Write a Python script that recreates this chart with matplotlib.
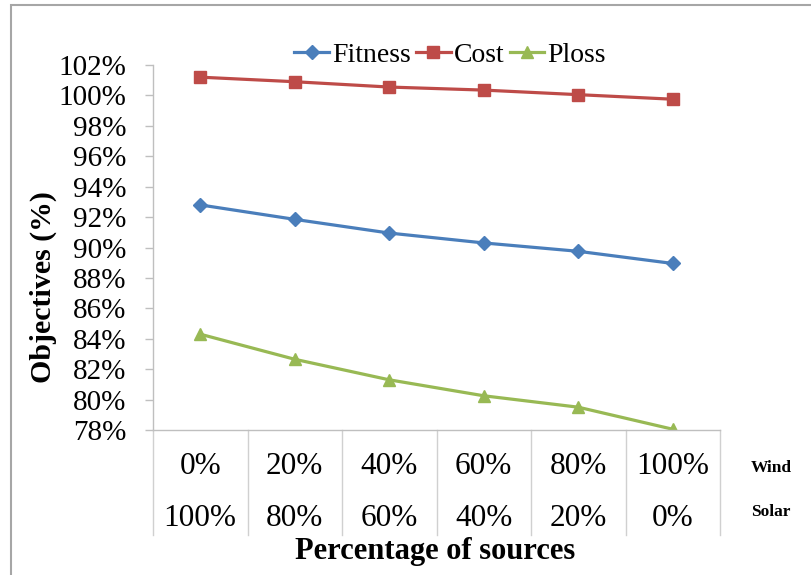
import matplotlib
matplotlib.use('Agg')
import matplotlib.pyplot as plt
import matplotlib.transforms as mtransforms
from matplotlib.patches import Rectangle

plt.rcParams['font.family'] = ['Liberation Serif', 'DejaVu Serif']

wind = ['0%', '20%', '40%', '60%', '80%', '100%']
solar = ['100%', '80%', '60%', '40%', '20%', '0%']
fitness = [92.8, 91.85, 90.95, 90.3, 89.75, 88.95]
cost = [101.2, 100.9, 100.55, 100.35, 100.05, 99.75]
ploss = [84.3, 82.65, 81.3, 80.25, 79.5, 78.05]
yticks = list(range(78, 103, 2))

W, H = 811, 575
fig = plt.figure(figsize=(W / 100, H / 100), dpi=100)

# outer chart frame
fig.patches.append(Rectangle((11 / W, -0.01), 1.0, 1 - 5 / H + 0.01, transform=fig.transFigure,
                             fill=False, edgecolor='#A6A6A6', linewidth=1.5))

ax = fig.add_axes([153 / W, 1 - 430 / H, (720 - 153) / W, (430 - 65) / H])

xs = range(len(wind))
ax.plot(xs, fitness, color='#4A7EBB', lw=2.3, marker='D', ms=7.5, label='Fitness')
ax.plot(xs, cost, color='#BE4B48', lw=2.3, marker='s', ms=9, label='Cost')
ax.plot(xs, ploss, color='#98B954', lw=2.3, marker='^', ms=9, label='Ploss')

ax.set_xlim(-0.5, len(wind) - 0.5)
ax.set_ylim(78, 102)
ax.set_yticks(yticks)
ax.set_yticklabels(['%d%%' % v for v in yticks], fontsize=21)
ax.tick_params(axis='y', color='#BFBFBF', length=6, width=1, pad=13)
ax.set_xticks([])
for s in ['top', 'right']:
    ax.spines[s].set_visible(False)
for s in ['left', 'bottom']:
    ax.spines[s].set_color('#BFBFBF')
    ax.spines[s].set_linewidth(1)

# category table below the axis
trans = mtransforms.blended_transform_factory(ax.transData, ax.transAxes)
low = -(535 - 430) / (430 - 65)
for b in [i - 0.5 for i in range(len(wind) + 1)]:
    ax.plot([b, b], [0, low], color='#D0D0D0', lw=1, transform=trans, clip_on=False)
row1 = -(466 - 430) / (430 - 65)
row2 = -(518 - 430) / (430 - 65)
for i in xs:
    ax.text(i, row1, wind[i], transform=trans, ha='center', va='center', fontsize=22.5)
    ax.text(i, row2, solar[i], transform=trans, ha='center', va='center', fontsize=22.5)
ax.text(771 / W, 1 - 468 / H, 'Wind', transform=fig.transFigure, ha='center', va='center',
        fontsize=12.5, fontweight='bold')
ax.text(771 / W, 1 - 512 / H, 'Solar', transform=fig.transFigure, ha='center', va='center',
        fontsize=12.5, fontweight='bold')

fig.text(435 / W, 1 - 551 / H, 'Percentage of sources', ha='center', va='center',
         fontsize=22, fontweight='bold')
fig.text(43 / W, 1 - 287 / H, 'Objectives (%)', ha='center', va='center', rotation=90,
         fontsize=21.5, fontweight='bold')

fig.legend(loc='center', bbox_to_anchor=(450 / W, 1 - 55 / H), ncol=3, frameon=False,
           fontsize=20, handlelength=1.25, handletextpad=0.1, columnspacing=0.2,
           borderaxespad=0)

fig.savefig('out.png', dpi=100)
